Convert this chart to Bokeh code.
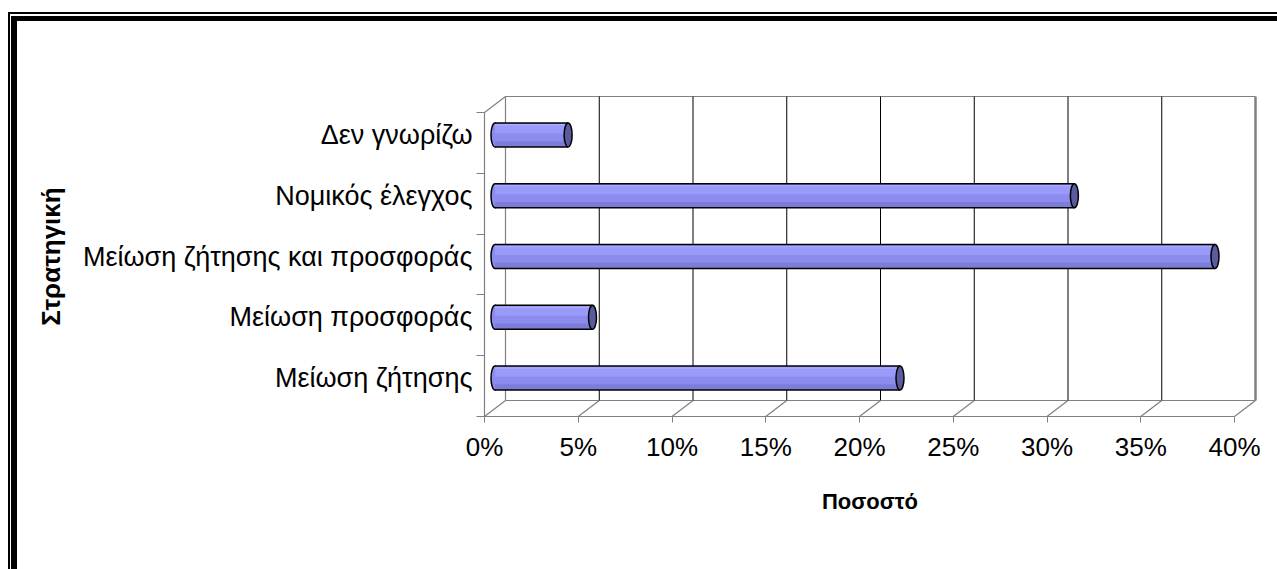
from bokeh.plotting import figure
from bokeh.models import Range1d, FixedTicker, NumeralTickFormatter, ColumnDataSource
from bokeh.embed import file_html
from bokeh.resources import INLINE

# ---- data ----
categories = ["Μείωση ζήτησης", "Μείωση προσφοράς", "Μείωση ζήτησης και προσφοράς",
              "Νομικός έλεγχος", "Δεν γνωρίζω"]
values = [0.216, 0.052, 0.384, 0.309, 0.039]
x_ticks = [0.0, 0.05, 0.10, 0.15, 0.20, 0.25, 0.30, 0.35, 0.40]
x_title = "Ποσοστό"
y_title = "Στρατηγική"

# ---- 3D geometry (depth offset of the back wall) ----
XPX = 1875.0      # px per x unit (fraction)
YPX = 60.8        # px per category
DX = 21 / XPX
DY = 16 / YPX
XMAX = 0.40
n = len(categories)
FONT = "Liberation Sans"
GRAY = "#808080"

W, Hh = 1277, 569
X0PX, Y0PX = 484, 416          # canvas position of the front origin
FL, FR, FT, FB = 482, 1257, 94, 418   # frame box

p = figure(width=W, height=Hh, output_backend="svg", toolbar_location=None,
           x_range=Range1d((FL - X0PX) / XPX, (FR - X0PX) / XPX),
           y_range=Range1d((Y0PX - FB) / YPX, (Y0PX - FT) / YPX),
           min_border_left=FL, min_border_right=W - FR, min_border_top=FT, min_border_bottom=Hh - FB)
p.xgrid.visible = False
p.ygrid.visible = False
p.outline_line_color = None
p.background_fill_color = "white"
p.border_fill_color = None

# chart border (double frame; only top and left fall inside the window)
p.styles = {
    "background": ("linear-gradient(#000,#000) 8px 12px / 100% 2px no-repeat,"
                   "linear-gradient(#000,#000) 8px 12px / 2px 100% no-repeat,"
                   "linear-gradient(#000,#000) 11px 16px / 100% 5px no-repeat,"
                   "linear-gradient(#000,#000) 11px 16px / 6px 100% no-repeat,"
                   "#ffffff")
}

# back wall edges
p.segment(x0=[DX, DX, DX], y0=[DY, n + DY, DY], x1=[XMAX + DX, XMAX + DX, DX], y1=[DY, n + DY, n + DY],
          line_color=GRAY, line_width=1.2)
p.segment(x0=[XMAX + DX], y0=[DY], x1=[XMAX + DX], y1=[n + DY], line_color=GRAY, line_width=2.5)
# back wall gridlines
inner = [t for t in x_ticks if 0 < t < XMAX]
p.segment(x0=[t + DX for t in inner], y0=[DY] * len(inner), x1=[t + DX for t in inner], y1=[n + DY] * len(inner),
          line_color="black", line_width=1)
# floor
p.segment(x0=x_ticks, y0=[0] * len(x_ticks), x1=[t + DX for t in x_ticks], y1=[DY] * len(x_ticks),
          line_color=GRAY, line_width=1.2)
p.segment(x0=[0], y0=[0], x1=[XMAX], y1=[0], line_color=GRAY, line_width=1.2)
# left side wall
p.segment(x0=[0, 0], y0=[0, n], x1=[0, DX], y1=[n, n + DY], line_color=GRAY, line_width=1.2)

# bars (cylinders at mid depth)
H = 24 / YPX
yc = [i + 0.5 + DY / 2 for i in range(n)]
x0 = [DX / 2] * n
x1 = [v + DX / 2 for v in values]
src = ColumnDataSource(dict(y=yc, left=x0, right=x1, cat=categories, val=values))
BODY = "#8c8cee"
p.ellipse(x="left", y="y", width=8, height=24, width_units="screen", height_units="screen",
          fill_color=BODY, line_color="black", line_width=1.5, source=src)
p.hbar(y="y", left="left", right="right", height=H, fill_color=BODY, line_color=None, source=src)
p.hbar(y=[c + 0.25 * H for c in yc], left=x0, right=x1, height=0.38 * H, fill_color="#9a9afb", line_color=None)
p.hbar(y=[c + 0.42 * H for c in yc], left=x0, right=x1, height=0.06 * H, fill_color="#a9a9ff", line_color=None)
p.hbar(y=[c - 0.38 * H for c in yc], left=x0, right=x1, height=0.24 * H, fill_color="#7c7cd9", line_color=None)
p.segment(x0=x0 + x0, y0=[c + H / 2 for c in yc] + [c - H / 2 for c in yc],
          x1=x1 + x1, y1=[c + H / 2 for c in yc] + [c - H / 2 for c in yc],
          line_color="black", line_width=1.5)
p.ellipse(x="right", y="y", width=8, height=24, width_units="screen", height_units="screen",
          fill_color="#5a5a9e", line_color="black", line_width=1.5, source=src)

# x axis
xa = p.xaxis[0]
xa.ticker = FixedTicker(ticks=x_ticks)
xa.formatter = NumeralTickFormatter(format="0%")
xa.axis_line_color = None
xa.major_tick_line_color = GRAY
xa.major_tick_in = 2
xa.major_tick_out = 4
xa.minor_tick_line_color = None
xa.major_label_text_font = FONT
xa.major_label_text_font_size = "26px"
xa.major_label_text_color = "black"
xa.major_label_standoff = 9
xa.axis_label = x_title
xa.axis_label_text_font = FONT
xa.axis_label_text_font_size = "22px"
xa.axis_label_text_font_style = "bold"
xa.axis_label_text_color = "black"
xa.axis_label_standoff = 24

# y axis (labels at mid-depth category centres, small ticks at category borders)
ya = p.yaxis[0]
ya.ticker = FixedTicker(ticks=yc, minor_ticks=list(range(n + 1)))
ya.major_label_overrides = {c: lab for c, lab in zip(yc, categories)}
ya.axis_line_color = None
ya.major_tick_line_color = None
ya.major_tick_out = 0
ya.major_tick_in = 0
ya.minor_tick_line_color = GRAY
ya.minor_tick_in = 2
ya.minor_tick_out = 6
ya.major_label_text_font = FONT
ya.major_label_text_font_size = "27px"
ya.major_label_text_color = "black"
ya.major_label_standoff = 4
ya.axis_label = y_title
ya.axis_label_text_font = FONT
ya.axis_label_text_font_size = "26px"
ya.axis_label_text_font_style = "bold"
ya.axis_label_text_color = "black"
ya.axis_label_standoff = 14

open("out.html", "w").write(file_html(p, INLINE))
